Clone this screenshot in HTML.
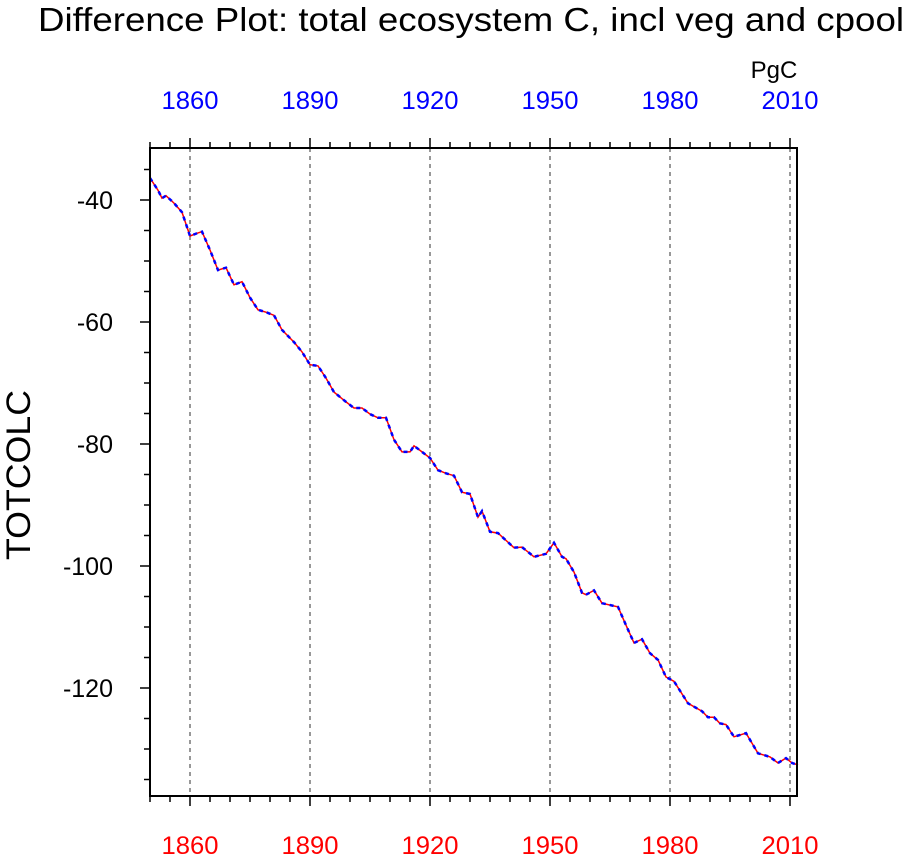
<!DOCTYPE html>
<html><head><meta charset="utf-8"><style>
body{margin:0;background:#fff;}
svg{display:block;font-family:"Liberation Sans",sans-serif;}
</style></head><body>
<svg id="c" width="909" height="857">
<text x="38" y="31" font-size="33" textLength="866" lengthAdjust="spacingAndGlyphs">Difference Plot: total ecosystem C, incl veg and cpool</text>
<text x="774" y="78" font-size="24" text-anchor="middle">PgC</text>
<text transform="translate(30,475) rotate(-90)" font-size="34" text-anchor="middle" textLength="170" lengthAdjust="spacingAndGlyphs">TOTCOLC</text>
<g id="grid"></g><g id="axes"></g><g id="lines"></g>
<rect x="150" y="148" width="647" height="648" fill="none" stroke="#000" stroke-width="2"/>
</svg>
<script>
const years=[1850,1852,1853,1854,1856,1858,1860,1862,1863,1865,1867,1869,1871,1873,1875,1877,1879,1881,1883,1886,1888,1890,1892,1894,1896,1899,1901,1903,1905,1907,1909,1911,1913,1915,1916,1918,1920,1922,1924,1926,1928,1930,1932,1933,1935,1937,1941,1943,1946,1949,1951,1953,1954,1956,1958,1959,1961,1963,1967,1969,1971,1973,1975,1977,1979,1981,1984.5,1988,1989.5,1991,1992.5,1994,1996,1999,2002,2005,2007,2009,2010.5,2012];
const values=[-36.4,-38.4,-39.7,-39.3,-40.5,-42,-45.9,-45.4,-45.2,-48.2,-51.5,-51.1,-53.9,-53.4,-56,-58,-58.4,-58.9,-61.3,-63.3,-64.9,-67,-67.2,-69.2,-71.5,-73.1,-74.1,-74.1,-75.1,-75.7,-75.7,-79.3,-81.3,-81.3,-80.3,-81.3,-82.3,-84.3,-84.8,-85.2,-87.9,-88.2,-92,-91,-94.4,-94.6,-97,-96.9,-98.5,-98,-96.2,-98.5,-98.8,-101,-104.4,-104.7,-104,-106.1,-106.7,-109.7,-112.6,-112,-114.3,-115.4,-118.2,-118.9,-122.5,-123.8,-124.8,-124.8,-125.8,-126,-128,-127.4,-130.7,-131.3,-132.3,-131.5,-132.3,-132.6];
const xTicks=[1860,1890,1920,1950,1980,2010];
const yTicks=[-40,-60,-80,-100,-120];
const NS="http://www.w3.org/2000/svg";
const X=y=>150+(y-1850)*4;
const Y=v=>200+(-40-v)*6.1;
function mk(p,t,a){const e=document.createElementNS(NS,t);for(const k in a)e.setAttribute(k,a[k]);document.getElementById(p).appendChild(e);return e;}
for(const t of xTicks){
 const g=mk('grid','line',{x1:X(t),x2:X(t),y1:148,y2:796,stroke:'#777','stroke-width':1.5,'stroke-dasharray':'4,4'});
 
 
 const b=mk('axes','text',{x:X(t),y:854,'font-size':25,fill:'#f00','text-anchor':'middle',textLength:57,lengthAdjust:'spacingAndGlyphs'});b.textContent=t;
 
 
 const u=mk('axes','text',{x:X(t),y:109,'font-size':25,fill:'#00f','text-anchor':'middle',textLength:57,lengthAdjust:'spacingAndGlyphs'});u.textContent=t;
 
 
}
for(let yr=1850;yr<=2012;yr+=5){
 const maj=(yr-1860)%30===0;const L=maj?10:6;
 mk('axes','line',{x1:X(yr),x2:X(yr),y1:796,y2:796+L,stroke:'#000','stroke-width':1.5});
 mk('axes','line',{x1:X(yr),x2:X(yr),y1:148,y2:148-L,stroke:'#000','stroke-width':1.5});
}
for(let v=-35;v>=-135;v-=5){
 const maj=v%20===0;const L=maj?10:6;
 mk('axes','line',{x1:150-L,x2:150,y1:Y(v),y2:Y(v),stroke:'#000','stroke-width':1.5});
}
for(const v of yTicks){
 const t=mk('axes','text',{x:113,y:Y(v)+9,'font-size':25,'text-anchor':'end'});t.textContent=v;
 
 
}
const pts=years.map((y,i)=>X(y).toFixed(1)+','+Y(values[i]).toFixed(1)).join(' ');
const r=mk('lines','polyline',{points:pts,fill:'none',stroke:'#f00','stroke-width':1.5});


const b=mk('lines','polyline',{points:pts,fill:'none',stroke:'#00f','stroke-width':2.5,'stroke-dasharray':'4,4'});


</script>
</body></html>
